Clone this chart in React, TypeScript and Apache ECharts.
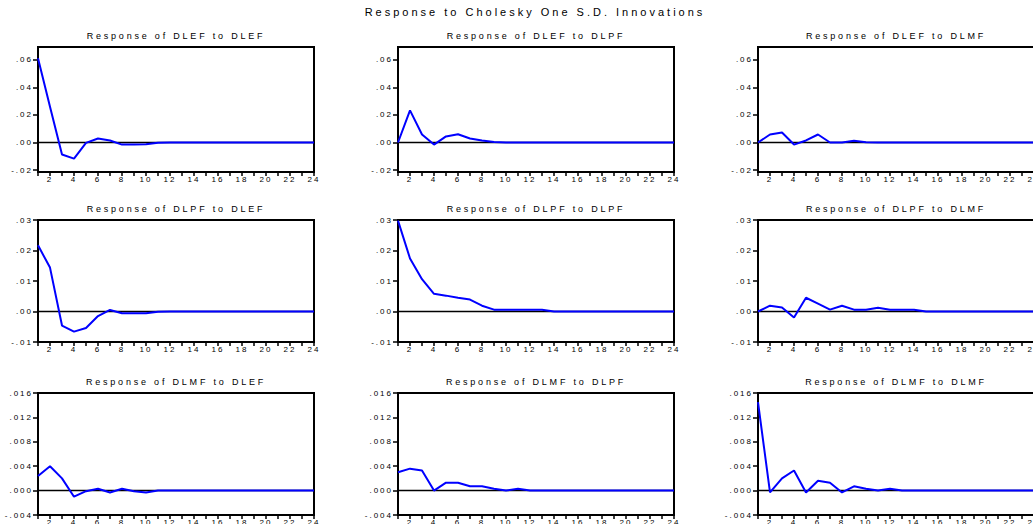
import React, { useEffect, useRef } from "react";
import * as echarts from "echarts";

// ---------- data ----------
const periods = [1, 2, 3, 4, 5, 6, 7, 8, 9, 10, 11, 12, 13, 14, 15, 16, 17, 18, 19, 20, 21, 22, 23, 24];
const xTickLabels = [2, 4, 6, 8, 10, 12, 14, 16, 18, 20, 22, 24];

const yTicksRow1 = [-0.02, 0, 0.02, 0.04, 0.06];
const yTicksRow2 = [-0.01, 0, 0.01, 0.02, 0.03];
const yTicksRow3 = [-0.004, 0, 0.004, 0.008, 0.012, 0.016];

const variables = ["DLEF", "DLPF", "DLMF"];
const mainTitle = "Response to Cholesky One S.D. Innovations";

// Response of DLEF
const dlefToDlef = [0.0612, 0.026, -0.0087, -0.0117, -0.0003, 0.0029, 0.0015, -0.0015, -0.0014, -0.0013, -0.0002, 0, 0, 0, 0, 0, 0, 0, 0, 0, 0, 0, 0, 0];
const dlefToDlpf = [0, 0.0233, 0.0058, -0.0015, 0.0044, 0.006, 0.0029, 0.0015, 0.0003, 0, 0, 0, 0, 0, 0, 0, 0, 0, 0, 0, 0, 0, 0, 0];
const dlefToDlmf = [0, 0.0058, 0.0073, -0.0015, 0.0015, 0.0058, 0, 0, 0.0012, 0.0002, 0, 0, 0, 0, 0, 0, 0, 0, 0, 0, 0, 0, 0, 0];

// Response of DLPF
const dlpfToDlef = [0.0217, 0.0144, -0.0046, -0.0066, -0.0054, -0.0015, 0.0005, -0.0006, -0.0006, -0.0006, -0.0001, 0, 0, 0, 0, 0, 0, 0, 0, 0, 0, 0, 0, 0];
const dlpfToDlpf = [0.0298, 0.0174, 0.0106, 0.0058, 0.0052, 0.0045, 0.0039, 0.0019, 0.0006, 0.0006, 0.0006, 0.0006, 0.0006, 0, 0, 0, 0, 0, 0, 0, 0, 0, 0, 0];
const dlpfToDlmf = [0, 0.0019, 0.0013, -0.002, 0.0045, 0.0026, 0.0006, 0.0019, 0.0006, 0.0006, 0.0012, 0.0006, 0.0006, 0.0006, 0, 0, 0, 0, 0, 0, 0, 0, 0, 0];

// Response of DLMF
const dlmfToDlef = [0.0024, 0.004, 0.002, -0.001, -0.0001, 0.0003, -0.0003, 0.0003, -0.0001, -0.0003, 0, 0, 0, 0, 0, 0, 0, 0, 0, 0, 0, 0, 0, 0];
const dlmfToDlpf = [0.003, 0.0036, 0.0033, 0, 0.0013, 0.0013, 0.0007, 0.0007, 0.0003, 0, 0.0003, 0, 0, 0, 0, 0, 0, 0, 0, 0, 0, 0, 0, 0];
const dlmfToDlmf = [0.0145, -0.0003, 0.002, 0.0033, -0.0003, 0.0016, 0.0013, -0.0003, 0.0007, 0.0003, 0, 0.0003, 0, 0, 0, 0, 0, 0, 0, 0, 0, 0, 0, 0];

const panelValues = [
  [dlefToDlef, dlefToDlpf, dlefToDlmf],
  [dlpfToDlef, dlpfToDlpf, dlpfToDlmf],
  [dlmfToDlef, dlmfToDlpf, dlmfToDlmf],
];
const rowTicks = [yTicksRow1, yTicksRow2, yTicksRow3];

// ---------- layout ----------
const FONT = "Liberation Sans";
const colLeft = [38, 398, 758];
const gridW = 276;
const rowTop = [47, 220, 393];
const rowH = [125, 122, 122];
const rowRange = [
  [-0.0214, 0.0693],
  [-0.01, 0.03],
  [-0.004, 0.016],
];
const rowDecimals = [2, 2, 3];

const css = `
.irf text { letter-spacing: 2.8px; }
.irf text[style*="8px"] { letter-spacing: 2px; }
.irf text[style*="11px"] { letter-spacing: 3px; }
`;

function fmt(v: number, d: number) {
  const s = Math.abs(v).toFixed(d).replace(/^0/, "");
  return (v < -1e-12 ? "-" : "") + s;
}

function buildOption() {
  const grid: any[] = [];
  const xAxis: any[] = [];
  const yAxis: any[] = [];
  const series: any[] = [];
  const graphic: any[] = [];

  graphic.push({
    type: "text",
    x: 535,
    y: 12,
    silent: true,
    style: {
      text: mainTitle,
      fontSize: 11,
      fontFamily: FONT,
      fill: "#000",
      textAlign: "center",
      textVerticalAlign: "middle",
    },
  });

  for (let r = 0; r < 3; r++) {
    for (let c = 0; c < 3; c++) {
      const k = r * 3 + c;
      const dec = rowDecimals[r];
      grid.push({
        left: colLeft[c],
        top: rowTop[r],
        width: gridW,
        height: rowH[r],
        outerBoundsMode: "none",
        containLabel: false,
        show: true,
        borderColor: "#000",
        borderWidth: 2,
        backgroundColor: "rgba(0,0,0,0)",
      });
      xAxis.push({
        type: "value",
        gridIndex: k,
        min: periods[0],
        max: periods[periods.length - 1],
        axisLine: { show: true, onZero: false, lineStyle: { color: "#000", width: 2 } },
        axisTick: { show: true, customValues: periods, length: 4, lineStyle: { color: "#000", width: 1.5 } },
        axisLabel: {
          customValues: xTickLabels,
          fontSize: 8,
          fontFamily: FONT,
          color: "#000",
          margin: 3,
          hideOverlap: false,
        },
        splitLine: { show: false },
      });
      yAxis.push({
        type: "value",
        gridIndex: k,
        min: rowRange[r][0],
        max: rowRange[r][1],
        axisLine: { show: true, onZero: false, lineStyle: { color: "#000", width: 2 } },
        axisTick: { show: true, customValues: rowTicks[r], length: 5, lineStyle: { color: "#000", width: 1.5 } },
        axisLabel: {
          customValues: rowTicks[r],
          fontSize: 8,
          fontFamily: FONT,
          color: "#000",
          margin: 5,
          formatter: (v: number) => fmt(v, dec),
        },
        splitLine: { show: false },
      });
      series.push({
        type: "line",
        xAxisIndex: k,
        yAxisIndex: k,
        data: [
          [periods[0], 0],
          [periods[periods.length - 1], 0],
        ],
        symbol: "none",
        silent: true,
        z: 2,
        lineStyle: { color: "#000", width: 1.5 },
      });
      series.push({
        type: "line",
        xAxisIndex: k,
        yAxisIndex: k,
        data: periods.map((p, i) => [p, panelValues[r][c][i]]),
        symbol: "none",
        silent: true,
        z: 3,
        lineStyle: { color: "#0000ff", width: 2 },
      });
      graphic.push({
        type: "text",
        x: colLeft[c] + gridW / 2,
        y: rowTop[r] - 11.5,
        silent: true,
        style: {
          text: `Response of ${variables[r]} to ${variables[c]}`,
          fontSize: 9,
          fontFamily: FONT,
          fill: "#000",
          textAlign: "center",
          textVerticalAlign: "middle",
        },
      });
    }
  }

  return {
    animation: false,
    backgroundColor: "#fff",
    grid,
    xAxis,
    yAxis,
    series,
    graphic,
  };
}

export default function App() {
  const ref = useRef<HTMLDivElement>(null);
  useEffect(() => {
    if (!ref.current) return;
    const chart = echarts.init(ref.current, undefined, { renderer: "svg" });
    chart.setOption(buildOption() as any);
    return () => chart.dispose();
  }, []);
  return (
    <>
      <style>{css}</style>
      <div
        ref={ref}
        className="irf"
        style={{ position: "fixed", left: 0, top: 0, width: 1033, height: 524, background: "#fff" }}
      />
    </>
  );
}
